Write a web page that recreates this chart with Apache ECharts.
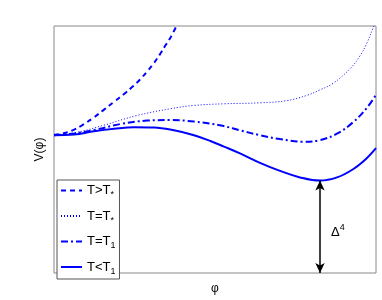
<!DOCTYPE html>
<html><head><meta charset="utf-8">
<script src="https://cdn.jsdelivr.net/npm/echarts@6/dist/echarts.min.js"></script>
<style>html,body{margin:0;padding:0;background:#fff}#c{width:382px;height:300px}</style>
</head><body><div id="c"></div>
<script>
// phi (arbitrary units) and V(phi) values
const phiAbove = [0,9,19,29,40,50,60,70,79,86,93,100,106,112,117,122];
const vAbove   = [142,143.5,147,152.5,160,168,176,184,192,199,207,216,225,235,243,253];
const phiStar  = [0,20,50,83,117,140,170,206,233,253,266,279,296,306,313,319,322];
const vStar    = [141.7,144,152,162,169,172.3,174,175,177.3,182.7,188.3,195,210,223.3,236.7,251.7,258];
const phiT1    = [0,20,40,67,93,117,140,167,186,206,226,249,266,283,299,313,322];
const vT1      = [141.7,143.5,147,153.3,156.7,157.3,155.7,151.7,146.7,141.7,137.7,135,136.7,143.3,155,170,183.3];
const phiBelow = [0,20,40,60,80,100,120,140,157,170,186,206,226,246,266,283,299,313,322];
const vBelow   = [141.7,142.3,145.7,148.3,150,149.7,146.7,141.7,135.5,130,123,113.3,105,98.3,95,98.3,106.7,118.3,128.3];
const names = ['T>T*','T=T*','T=T1','T<T1'];

const zip = (a,b)=>a.map((x,i)=>[x,b[i]]);
let mi = 0; vBelow.forEach((v,i)=>{ if(v<vBelow[mi]) mi=i; });
const minPt = [phiBelow[mi], vBelow[mi]];

const blue = '#0000ff';
const chart = echarts.init(document.getElementById('c'));
const fmt = n => {
  if (n==='T>T*') return '{m|T>T}{s|*}';
  if (n==='T=T*') return '{m|T=T}{s|*}';
  if (n==='T=T1') return '{m|T=T}{s|1}';
  return '{m|T<T}{s|1}';
};
chart.setOption({
  animation:false,
  grid:{left:54,right:6,top:26,bottom:20,show:true,borderColor:'#888',borderWidth:1},
  xAxis:{type:'value',min:0,max:322,axisLine:{show:false},axisTick:{show:false},axisLabel:{show:false},splitLine:{show:false},
    name:'\u03c6',nameLocation:'middle',nameGap:10,nameTextStyle:{color:'#000',fontSize:12,fontFamily:'Liberation Sans'}},
  yAxis:{type:'value',min:0,max:254,axisLine:{show:false},axisTick:{show:false},axisLabel:{show:false},splitLine:{show:false},
    name:'V(\u03c6)',nameLocation:'middle',nameGap:8,nameTextStyle:{color:'#000',fontSize:12,fontFamily:'Liberation Sans'}},
  legend:{orient:'vertical',left:57,top:180,itemWidth:21,itemHeight:14,itemGap:10,padding:[4,4,3,3],
    borderColor:'#555',borderWidth:1,backgroundColor:'#fff',
    itemStyle:{opacity:0},
    formatter:fmt,
    textStyle:{color:'#000',fontFamily:'Liberation Sans',
      rich:{m:{fontSize:13,fontFamily:'Liberation Sans',color:'#000'},s:{fontSize:9,fontFamily:'Liberation Sans',color:'#000',padding:[9,0,0,0]}}},
    data:names},
  series:[
    {name:names[0],type:'line',data:zip(phiAbove,vAbove),symbol:'none',smooth:0.4,color:blue,lineStyle:{color:blue,width:2,type:[5,4]}},
    {name:names[1],type:'line',data:zip(phiStar,vStar),symbol:'none',smooth:0.4,color:blue,lineStyle:{color:blue,width:1,type:[1,2]}},
    {name:names[2],type:'line',data:zip(phiT1,vT1),symbol:'none',smooth:0.4,color:blue,lineStyle:{color:blue,width:2,type:[7,3,2,3]}},
    {name:names[3],type:'line',data:zip(phiBelow,vBelow),symbol:'none',smooth:0.4,color:blue,lineStyle:{color:blue,width:2},
      markLine:{silent:true,symbol:['arrow','arrow'],symbolSize:[7,10],lineStyle:{color:'#000',width:1.5,type:'solid'},
        label:{show:false},
        data:[[{coord:[minPt[0],minPt[1]]},{coord:[minPt[0],0]}]]}}
  ]
});
// Delta^4 annotation placed next to the arrow, from data coordinates
const p = chart.convertToPixel({gridIndex:0},[minPt[0], minPt[1]/2]);
chart.setOption({graphic:[{type:'text',left:p[0]+11,top:p[1]-4,
  style:{text:'{d|\u0394}{p|4}',rich:{d:{fontSize:13,fontFamily:'Liberation Sans',fill:'#000',padding:[6,0,0,0]},p:{fontSize:9,fontFamily:'Liberation Sans',fill:'#000',padding:[0,0,4,0]}}}}]});
</script></body></html>
